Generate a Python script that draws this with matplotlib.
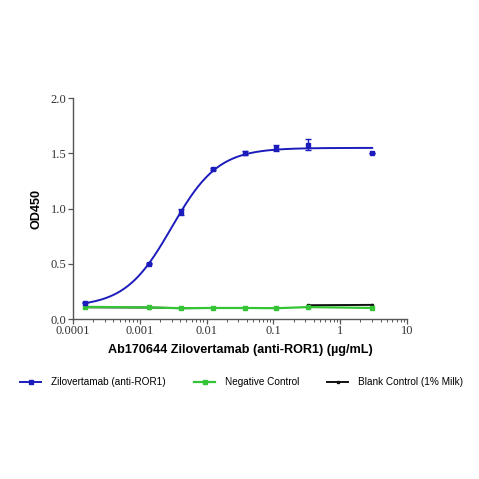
import matplotlib

matplotlib.use("Agg")
import matplotlib.pyplot as plt
import numpy as np
from matplotlib.lines import Line2D
from matplotlib.ticker import LogLocator, NullFormatter, FixedLocator

# Concentrations (ug/mL), 3-fold dilution series
CONC = [0.000152, 0.00137, 0.00412, 0.0123, 0.037, 0.111, 0.333, 3.0]

# Zilovertamab (anti-ROR1)
ZILO = [0.148, 0.50, 0.967, 1.358, 1.503, 1.548, 1.58, 1.50]
ZILO_ERR = [0.005, 0.005, 0.025, 0.01, 0.02, 0.03, 0.05, 0.0]

# 4PL fit
FIT_BOTTOM, FIT_TOP, FIT_EC50, FIT_HILL = 0.11, 1.55, 0.00301, 1.25

NEG = [0.110, 0.105, 0.098, 0.100, 0.100, 0.098, 0.108, 0.100]
# blank: no value at 0.111, so the line breaks there
BLANK = [0.106, 0.104, 0.098, 0.100, 0.100, np.nan, 0.125, 0.128]

X_TICKS = [0.0001, 0.001, 0.01, 0.1, 1, 10]
X_TICK_LABELS = ["0.0001", "0.001", "0.01", "0.1", "1", "10"]
Y_TICKS = [0.0, 0.5, 1.0, 1.5, 2.0]

BLUE = "#1c1cbd"
GREEN = "#35c435"
BLACK = "#111111"
AXIS = "#555555"

fig = plt.figure(figsize=(4.79, 4.79), dpi=100)
ax = fig.add_axes([0.152, 0.334, 0.698, 0.461])

xs = np.logspace(np.log10(CONC[0]), np.log10(CONC[-1]), 300)
fit = FIT_BOTTOM + (FIT_TOP - FIT_BOTTOM) / (1 + (FIT_EC50 / xs) ** FIT_HILL)
ax.plot(xs, fit, color=BLUE, lw=1.4, zorder=4)
ax.errorbar(CONC, ZILO, yerr=ZILO_ERR, fmt="s", ms=2.8, color=BLUE,
            ecolor=BLUE, elinewidth=1.0, capsize=2.2, capthick=1.0, zorder=5)

ax.plot(CONC, BLANK, color=BLACK, lw=1.4, marker="s", ms=2, zorder=2)
ax.plot(CONC, NEG, color=GREEN, lw=1.6, marker="s", ms=3, zorder=3)

ax.set_xscale("log")
ax.set_xlim(0.0001, 10)
ax.set_ylim(0, 2.0)
ax.xaxis.set_major_locator(FixedLocator(X_TICKS))
ax.set_xticklabels(X_TICK_LABELS)
ax.xaxis.set_minor_locator(LogLocator(base=10, subs=np.arange(2, 10)))
ax.xaxis.set_minor_formatter(NullFormatter())
ax.set_yticks(Y_TICKS)
ax.set_yticklabels([f"{v:.1f}" for v in Y_TICKS])

for side in ("top", "right"):
    ax.spines[side].set_visible(False)
for side in ("left", "bottom"):
    ax.spines[side].set_color(AXIS)
    ax.spines[side].set_linewidth(1.0)
ax.tick_params(axis="both", which="major", direction="out", length=3.5,
               width=0.9, color=AXIS, labelsize=9, pad=1.0)
ax.tick_params(axis="x", which="minor", direction="out", length=2,
               width=0.7, color=AXIS)
for lab in ax.get_xticklabels() + ax.get_yticklabels():
    lab.set_fontfamily("Liberation Serif")
    lab.set_color("#333333")

ax.set_xlabel("Ab170644 Zilovertamab (anti-ROR1) (µg/mL)",
              fontfamily="Liberation Sans", fontweight="bold", fontsize=9.1,
              labelpad=5)
ax.set_ylabel("OD450", fontfamily="Liberation Sans", fontweight="bold",
              fontsize=9.1, labelpad=6)

handles = [
    Line2D([], [], color=BLUE, lw=1.4, marker="s", ms=2.5),
    Line2D([], [], color=GREEN, lw=1.6, marker="s", ms=2.5),
    Line2D([], [], color=BLACK, lw=1.4, marker="s", ms=2),
]
labels = ["Zilovertamab (anti-ROR1)", "Negative Control", "Blank Control (1% Milk)"]
fig.legend(handles, labels, loc="center", bbox_to_anchor=(0.505, 0.202), ncol=3,
           frameon=False, prop={"family": "Liberation Sans", "size": 7.2},
           handlelength=2.1, handletextpad=1.0, columnspacing=2.8)

fig.savefig("out.png", dpi=100)
